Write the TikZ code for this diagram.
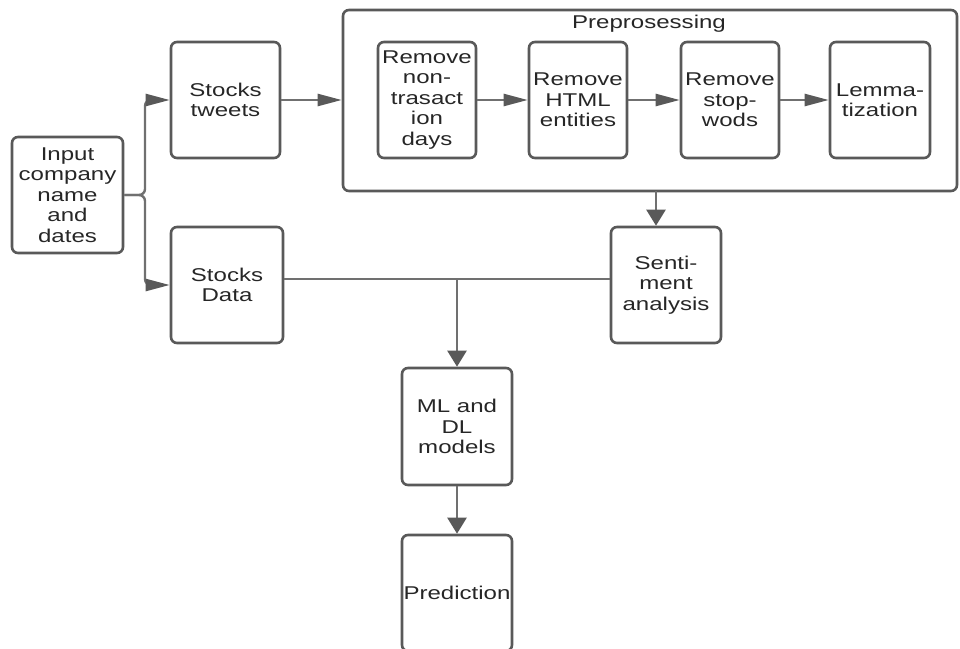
\documentclass[tikz,border=0pt]{standalone}
\usepackage{fontspec}
\setmainfont{Liberation Sans}[FakeStretch=1.3]
\usepackage{xcolor}
\usetikzlibrary{arrows.meta}

\definecolor{boxgray}{HTML}{595959}
\definecolor{linegray}{HTML}{707070}
\definecolor{textgray}{HTML}{262626}

\tikzset{
    block/.style={draw=boxgray, line width=2.6pt, rounded corners=6pt, align=center,
        inner sep=1pt, text=textgray, minimum width=110pt, minimum height=116pt,
        font=\fontsize{18.5}{20.5}\selectfont},
    conn/.style={draw=linegray, line width=2.4pt},
    harrow/.style={conn, -{Triangle[length=24pt, width=12pt, color=boxgray]}},
    varrow/.style={conn, -{Triangle[length=16pt, width=19pt, color=boxgray]}}
}

\begin{document}
\begin{tikzpicture}[x=1pt, y=-1pt]
    \useasboundingbox (0,0) rectangle (960,648);

    % Input and sources
    \node[block, minimum width=111pt] (input) at (67.5,195) {Input\\company\\name\\and\\dates};
    \node[block, minimum width=109pt] (tweets) at (225.5,100) {Stocks\\tweets};
    \node[block, minimum width=112pt] (data) at (227,285) {Stocks\\Data};

    % Preprocessing
    \node[block, minimum width=614pt, minimum height=181pt] (pre) at (650,100.5) {};
    \node[text=textgray, font=\fontsize{18.5}{20.5}\selectfont] (prelabel) at (649,24) {Preprosessing};

    \node[block, minimum width=98pt] (nontrans) at (427,100) {Remove\\non-\\trasact\\ion\\days};
    \node[block, minimum width=98pt] (html) at (578,100) {Remove\\HTML\\entities};
    \node[block, minimum width=98pt] (stop) at (730,100) {Remove\\stop-\\wods};
    \node[block, minimum width=100pt] (lemma) at (880,100) {Lemma-\\tization};

    % Analysis and models
    \node[block] (senti) at (666,285) {Senti-\\ment\\analysis};
    \node[block, minimum height=117pt] (ml) at (457,426.5) {ML and\\DL\\models};
    \node[block] (pred) at (457,593) {Prediction};

    % Helper points
    \coordinate (split) at (145,195);
    \coordinate (merge) at (457,279);
    \coordinate (predown) at (656,191);

    % Connections
    \draw[harrow, rounded corners=6pt] (input.east) -- (split) |- (tweets.west);
    \draw[harrow, rounded corners=6pt] (input.east) -- (split) |- (data.west);
    \draw[harrow] (tweets.east) -- (pre.west |- tweets.east);
    \draw[harrow] (nontrans) -- (html);
    \draw[harrow] (html) -- (stop);
    \draw[harrow] (stop) -- (lemma);
    \draw[varrow] (predown) -- (predown |- senti.north);
    \draw[conn] ([yshift=6pt]data.east) -- ([yshift=6pt]senti.west);
    \draw[varrow] (merge) -- (ml.north);
    \draw[varrow] (ml) -- (pred);

\end{tikzpicture}
\end{document}
